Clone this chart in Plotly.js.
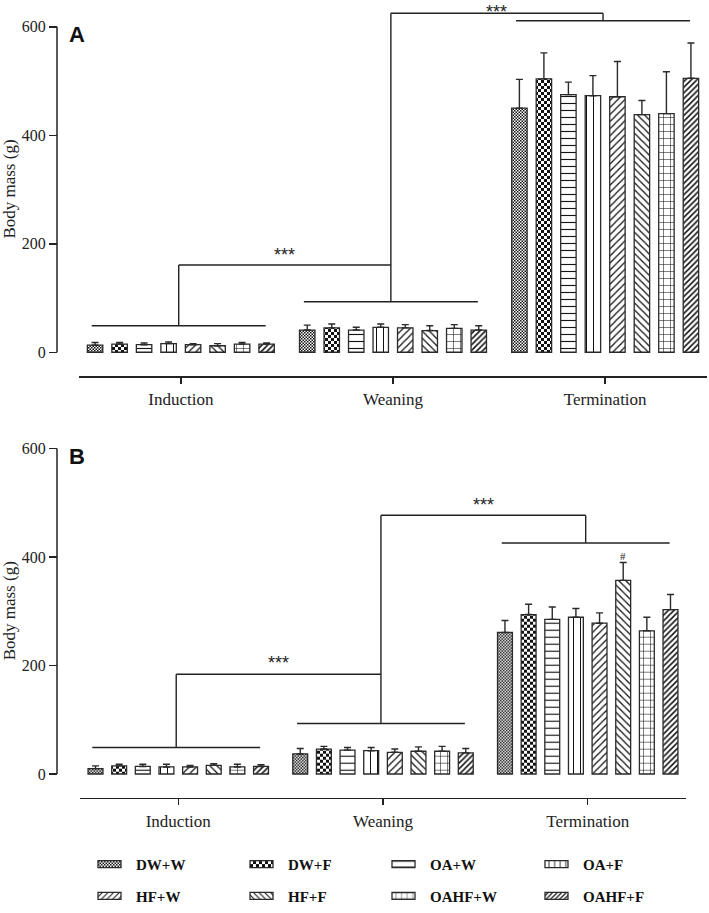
<!DOCTYPE html>
<html><head><meta charset="utf-8">
<script src="https://cdn.plot.ly/plotly-3.0.1.min.js"></script>
<style>html,body{margin:0;padding:0;background:#fff}#chart{width:709px;height:913px}</style>
</head><body><div id="chart"></div>
<script>
// ---------- data ----------
const stages = ['Induction', 'Weaning', 'Termination'];
const groups = ['DW+W', 'DW+F', 'OA+W', 'OA+F', 'HF+W', 'HF+F', 'OAHF+W', 'OAHF+F'];

// Panel A: body mass (g), mean per group at each stage
const A_induction   = [13, 15, 14, 16, 14, 12, 15, 15];
const A_weaning     = [41, 45, 41, 46, 45, 40, 44, 41];
const A_termination = [450, 504, 475, 473, 471, 438, 440, 505];
// Panel A: error (upper bar only)
const A_err_induction   = [5, 3, 3, 3, 2, 4, 3, 2];
const A_err_weaning     = [9, 7, 5, 6, 6, 9, 7, 8];
const A_err_termination = [53, 48, 23, 37, 65, 26, 77, 65];

// Panel B
const B_induction   = [10, 15, 14, 13, 13, 16, 13, 14];
const B_weaning     = [37, 46, 44, 43, 40, 42, 42, 39];
const B_termination = [261, 294, 285, 289, 278, 357, 264, 303];
const B_err_induction   = [5, 3, 4, 5, 3, 3, 5, 3];
const B_err_weaning     = [10, 5, 5, 6, 6, 8, 9, 8];
const B_err_termination = [22, 19, 23, 16, 19, 33, 25, 28];

// significance brackets (body-mass units): induction line, weaning line, lower bracket, termination line, upper bracket
const bracketA = [49, 93, 161, 611, 625];
const bracketB = [49, 93, 184, 426, 477];
const starsA = [179, 627];
const starsB = [204, 496];
const hashB = 401;       // '#' above HF+F at termination (panel B)

// ---------- layout helpers ----------
const W = 709, H = 913;
const py = v => 1 - v / H;
const k = 328 / 600;                 // px per gram
const yRange = [-24 / k, 600 + 25 / k];
const BARGAP = 0.076, GROUPGAP = 0.37;
const INK = '#222';
const SERIF = 'Liberation Serif, Times New Roman, serif';
const SANS = 'Liberation Sans, Arial, sans-serif';

const patterns = [
  {shape: 'x', size: 3, solidity: 0.45},
  {shape: '+', size: 6, solidity: 0.5},
  {shape: '-', size: 7, solidity: 0.16},
  {shape: '|', size: 7, solidity: 0.15},
  {shape: '/', size: 5, solidity: 0.25},
  {shape: '\\', size: 5, solidity: 0.25},
  {shape: '+', size: 7, solidity: 0.15},
  {shape: '/', size: 4, solidity: 0.38}
];
const legendIds = ['legend', 'legend2', 'legend3', 'legend4', 'legend5', 'legend6', 'legend7', 'legend8'];

function panelTraces(ind, wean, term, eI, eW, eT, xa, ya, legendOn) {
  return groups.map((g, i) => ({
    type: 'bar', name: g, x: stages, y: [ind[i], wean[i], term[i]],
    xaxis: xa, yaxis: ya,
    marker: {color: '#fff', line: {color: '#2a2a2a', width: 1.3},
             pattern: Object.assign({fgcolor: '#111', bgcolor: '#fff', fillmode: 'replace'}, patterns[i])},
    error_y: {type: 'data', symmetric: false, array: [eI[i], eW[i], eT[i]], arrayminus: [0, 0, 0],
              color: '#2a2a2a', thickness: 1.4, width: 3.5},
    showlegend: legendOn, legend: legendIds[i], legendgroup: g,
    hoverinfo: 'skip'
  }));
}

const data = [
  ...panelTraces(A_induction, A_weaning, A_termination, A_err_induction, A_err_weaning, A_err_termination, 'x', 'y', true),
  ...panelTraces(B_induction, B_weaning, B_termination, B_err_induction, B_err_weaning, B_err_termination, 'x2', 'y2', false)
];

function xAxis(d0, d1, anchor) {
  return {domain: [d0 / W, d1 / W], range: [-0.48, 2.48], anchor: anchor, type: 'category',
          showline: true, linecolor: INK, linewidth: 1.5, ticks: 'outside', ticklen: 6, tickwidth: 1.5,
          tickcolor: INK, showgrid: false, zeroline: false, fixedrange: true, ticklabelstandoff: 1,
          tickfont: {family: SERIF, size: 17, color: INK}};
}
function yAxis(top, bottom) {
  return {domain: [py(bottom), py(top)], range: yRange, anchor: 'free', position: 57 / W,
          showline: false, ticks: 'outside', ticklen: 8, tickwidth: 1.5, tickcolor: INK,
          tickvals: [0, 200, 400, 600], showgrid: false, zeroline: false, fixedrange: true,
          tickfont: {family: SERIF, size: 16, color: INK},
          title: {text: 'Body mass (g)', font: {family: SERIF, size: 17, color: INK}, standoff: 4}};
}

function line(xref, yref, x0, y0, x1, y1) {
  return {type: 'line', xref, yref, x0, y0, x1, y1, line: {color: INK, width: 1.4}};
}
function brackets(b, xref, yref) {
  const c = -0.01;
  return [
    line(xref, yref, -0.42, b[0], 0.40, b[0]),
    line(xref, yref, 0.58, b[1], 1.40, b[1]),
    line(xref, yref, 1.58, b[3], 2.40, b[3]),
    line(xref, yref, c, b[0], c, b[2]),
    line(xref, yref, c, b[2], 1 + c, b[2]),
    line(xref, yref, 1 + c, b[1], 1 + c, b[4]),
    line(xref, yref, 1 + c, b[4], 2 + c, b[4]),
    line(xref, yref, 2 + c, b[4], 2 + c, b[3]),
    // y axis line from 0 to 600
    {type: 'line', xref: 'paper', yref, x0: 57 / W, x1: 57 / W, y0: 0, y1: 600, line: {color: INK, width: 1.5}}
  ];
}
function star(xref, yref, x, y) {
  return {xref, yref, x, y, text: '***', showarrow: false, xanchor: 'center', yanchor: 'middle',
          font: {family: SANS, size: 18, color: INK}};
}
const slot = (1 - BARGAP) / groups.length;

// legend placement: text start x (px) per column, row centre y (px)
const legendTextX = [136, 288, 430, 583];
const legendRowY = [871, 903];

const layout = {
  width: W, height: H, margin: {l: 0, r: 0, t: 0, b: 0},
  paper_bgcolor: '#fff', plot_bgcolor: 'rgba(0,0,0,0)',
  barmode: 'group', bargap: BARGAP, bargroupgap: GROUPGAP,
  xaxis: xAxis(79, 707, 'y'), yaxis: yAxis(2, 379),
  xaxis2: xAxis(80, 686, 'y2'), yaxis2: yAxis(427, 804),
  shapes: [...brackets(bracketA, 'x', 'y'), ...brackets(bracketB, 'x2', 'y2')],
  annotations: [
    {xref: 'paper', yref: 'paper', x: 67 / W, y: py(35), xanchor: 'left', yanchor: 'middle', text: '<b>A</b>',
     showarrow: false, font: {family: SANS, size: 22, color: '#111'}},
    {xref: 'paper', yref: 'paper', x: 67 / W, y: py(460), xanchor: 'left', yanchor: 'middle', text: '<b>B</b>',
     showarrow: false, font: {family: SANS, size: 22, color: '#111'}},
    star('x', 'y', 0.49, starsA[0]), star('x', 'y', 1.49, starsA[1]),
    star('x2', 'y2', 0.49, starsB[0]), star('x2', 'y2', 1.49, starsB[1]),
    {xref: 'x2', yref: 'y2', x: 2 + (5 - 3.5) * slot, y: hashB, text: '#', showarrow: false,
     xanchor: 'center', yanchor: 'middle', font: {family: SERIF, size: 11, color: INK}}
  ]
};
legendIds.forEach((id, i) => {
  layout[id] = {orientation: 'h', xanchor: 'left', yanchor: 'middle',
    x: (legendTextX[i % 4] - 40) / W, y: py(legendRowY[Math.floor(i / 4)]),
    font: {family: SERIF, size: 15, color: '#111', weight: 'bold'}, bgcolor: 'rgba(0,0,0,0)',
    itemclick: false, itemdoubleclick: false};
});

Plotly.newPlot('chart', data, layout, {staticPlot: true, displayModeBar: false}).then(gd => {
  const NS = 'http://www.w3.org/2000/svg';
  const defs = gd.querySelector('svg.main-svg defs');
  function rect(x, y, w, h, f) {
    const r = document.createElementNS(NS, 'rect');
    r.setAttribute('x', x); r.setAttribute('y', y); r.setAttribute('width', w); r.setAttribute('height', h);
    r.setAttribute('fill', f); return r;
  }
  function checker(id, c) {
    const p = document.createElementNS(NS, 'pattern');
    p.setAttribute('id', id); p.setAttribute('patternUnits', 'userSpaceOnUse');
    p.setAttribute('width', 2 * c); p.setAttribute('height', 2 * c);
    p.appendChild(rect(0, 0, 2 * c, 2 * c, '#fff'));
    p.appendChild(rect(0, 0, c, c, '#111'));
    p.appendChild(rect(c, c, c, c, '#111'));
    defs.appendChild(p);
  }
  if (defs) {
    checker('chkFine', 1.5);
    checker('chkBig', 3);
    const custom = ['chkFine', 'chkBig'];
    gd.querySelectorAll('.barlayer').forEach(layer => {
      const tr = layer.querySelectorAll('g.trace.bars');
      custom.forEach((id, i) => {
        if (tr[i]) tr[i].querySelectorAll('g.point path').forEach(p => { p.style.fill = 'url(#' + id + ')'; });
      });
    });
    custom.forEach((id, i) => {
      gd.querySelectorAll('g.' + legendIds[i] + ' g.legendpoints path').forEach(p => { p.style.fill = 'url(#' + id + ')'; });
    });
  }
  gd.querySelectorAll('g.legendpoints path').forEach(p => p.setAttribute('d', 'M-18,-3.5h23v7h-23z'));
});
</script>
</body></html>
